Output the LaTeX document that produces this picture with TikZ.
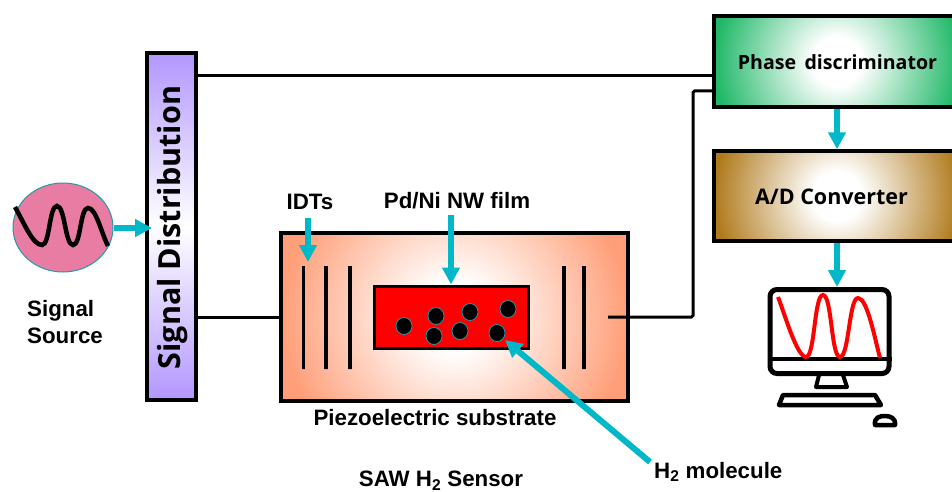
\documentclass[tikz,border=0pt]{standalone}
\usepackage{fontspec}
\setmainfont{Liberation Sans}
\newfontfamily\boxfont{Open Sans}
\usetikzlibrary{arrows.meta,positioning,calc,shapes.geometric}
\definecolor{tealarr}{HTML}{00B8C8}
\definecolor{srcpink}{HTML}{E87CA2}
\definecolor{srcedge}{HTML}{1F9AA8}
\definecolor{distpurple}{HTML}{B296FF}
\definecolor{phasegreen}{HTML}{1FB868}
\definecolor{adbrown}{HTML}{B07A1C}
\definecolor{subsalmon}{HTML}{FF9E78}
\pgfdeclareradialshading{subglow}{\pgfpoint{0bp}{0bp}}{%
  color(0bp)=(white); color(5bp)=(white); color(25bp)=(subsalmon); color(50bp)=(subsalmon)}
\pgfdeclareradialshading{phaseglow}{\pgfpoint{0bp}{0bp}}{%
  color(0bp)=(white); color(5bp)=(white); color(25bp)=(phasegreen); color(50bp)=(phasegreen)}
\pgfdeclareradialshading{adglow}{\pgfpoint{0bp}{0bp}}{%
  color(0bp)=(white); color(5bp)=(white); color(25bp)=(adbrown); color(50bp)=(adbrown)}
\tikzset{
  >=stealth,
  font=\bfseries\fontsize{22.3}{27}\selectfont,
  block/.style  ={draw=black, line width=3.5pt, inner sep=0pt, align=center},
  glow/.style 2 args={block, path picture={\shade[shading=#1] (path picture bounding box.center) +(-#2,-#2) rectangle +(#2,#2);}},
  wire/.style   ={line width=3pt, black, rounded corners=1.5pt},
  tarr/.style   ={-{Triangle[length=17pt,width=17pt]}, line width=6pt, tealarr},
  lbl/.style    ={font=\bfseries\fontsize{22.3}{27}\selectfont, align=left, inner sep=0pt},
  idt/.style    ={draw, line width=3.5pt, minimum width=0pt, inner sep=0pt, minimum height=103pt},
  mol/.style    ={ellipse, draw=srcedge, line width=0.8pt, fill=black, minimum width=16pt, minimum height=17pt, inner sep=0pt},
}
\begin{document}
\begin{tikzpicture}[x=1pt,y=-1pt]
  \useasboundingbox (0,0) rectangle (952,492);

  % main blocks
  \node[block, top color=distpurple, bottom color=distpurple, middle color=white, minimum width=49pt, minimum height=347pt] (dist) at (171.5,226.5) {};
  \node[font=\boxfont\bfseries\fontsize{30.5}{34}\selectfont, rotate=90, inner sep=0pt] (distlbl) at (173,227.5) {Signal Distribution};
  \node[glow={subglow}{173pt}, minimum width=347pt, minimum height=168pt] (sub) at (454.5,317) {};
  \node[glow={phaseglow}{123pt}, minimum width=246pt, minimum height=91pt] (phase) at (837,61.5) {};
  \node[glow={adglow}{123pt}, minimum width=246pt, minimum height=90pt] (adc) at (837,196) {};
  \node[font=\boxfont\bfseries\fontsize{19.6}{24}\selectfont, inner sep=0pt] (phaselbl) at (837.5,62) {Phase\, discriminator};
  \node[font=\boxfont\bfseries\fontsize{21.5}{25}\selectfont, inner sep=0pt] (adclbl) at (831.5,197) {A/D Converter};

  % source
  \node[ellipse, draw=srcedge, line width=1pt, fill=srcpink, minimum width=100pt, minimum height=89pt, inner sep=0pt] (src) at (63,227.5) {};
  \draw[line width=4.5pt] (15,207) .. controls (25,225) and (33,245) .. (42,245) .. controls (50,245) and (49,206) .. (57,206) .. controls (65,206) and (65,245) .. (73,245) .. controls (81,245) and (80,208) .. (88,208) .. controls (96,208) and (101,232) .. (108,246);
  \node[lbl, anchor=north west] (srclbl) at (27,300) {Signal\\Source};

  % film
  \node[draw=black, line width=3pt, fill=red, minimum width=154pt, minimum height=62pt, inner sep=0pt] (film) at (451.5,317) {};
  \foreach \n/\x/\y in {a/404/326,b/436/316,c/470/312,d/508/309,e/434/336,f/460/331,g/497/333}
    \node[mol] (m\n) at (\x,\y) {};

  % electrodes
  \foreach \n/\x in {i/303.5,j/326,k/350,l/564,m/584}
    \node[idt] (\n) at (\x,317.5) {};

  % wires
  \coordinate (wtop) at (0,76);
  \coordinate (wlow) at (0,91);
  \coordinate (wsub) at (0,317);
  \coordinate (wend) at (608,317);
  \coordinate (wbend) at (693,0);
  \draw[wire] (dist.east |- wtop) -- (phase.west |- wtop);
  \draw[wire] (dist.east |- wsub) -- (sub.west |- wsub);
  \draw[wire] (wend) -- (wbend |- wsub) -- (wbend |- wlow) -- (phase.west |- wlow);

  % labels
  \node[lbl] (idtlbl) at (310,202) {IDTs};
  \node[lbl] (filmlbl) at (457,201) {Pd/Ni NW film};
  \node[lbl] (sublbl) at (435,418) {Piezoelectric substrate};
  \node[lbl, anchor=west] (h2lbl) at (654,472) {H\textsubscript{2} molecule};
  \node[lbl] (sawlbl) at (441,480.5) {SAW H\textsubscript{2} Sensor};

  % monitor
  \node[draw, line width=5pt, rounded corners=7pt, minimum width=119pt, minimum height=84pt, inner sep=0pt] (screen) at (829.5,331.5) {};
  \draw[line width=4.5pt] (screen.west |- 0,359) -- (screen.east |- 0,359);
  \draw[line width=4pt, line join=round] (819,375) -- (816,387) -- (847,387) -- (843,375);
  \draw[line width=4.5pt, line join=round] (783,395) -- (875,395) -- (881,405) -- (779,405) -- cycle;
  \draw[line width=4.5pt, line join=round] (875,425) .. controls (874,417) and (880,416) .. (885,416) .. controls (890,416) and (896,418) .. (895,425) -- cycle;
  \draw[red, line width=4pt] (778,297) .. controls (785,315) and (797,357) .. (806,357) .. controls (815,357) and (814,295) .. (823,295) .. controls (832,295) and (831,357) .. (840,357) .. controls (849,357) and (849,298) .. (858,298) .. controls (867,298) and (874,335) .. (880,358);

  % arrows
  \coordinate (idttail) at (308,218);
  \coordinate (idthead) at (308,262);
  \coordinate (filmtail) at (451,215);
  \coordinate (h2tail) at (650,462);
  \coordinate (h2head) at (505,340);
  \draw[tarr] (src.east |- 0,228) -- (152,228);
  \draw[tarr] (idttail) -- (idthead);
  \draw[tarr] (filmtail) -- (film.north -| filmtail);
  \draw[tarr] (h2tail) -- (h2head);
  \draw[tarr] (phase.south) -- (adc.north);
  \draw[tarr] (adc.south) -- (screen.north -| adc.south);
\end{tikzpicture}
\end{document}
